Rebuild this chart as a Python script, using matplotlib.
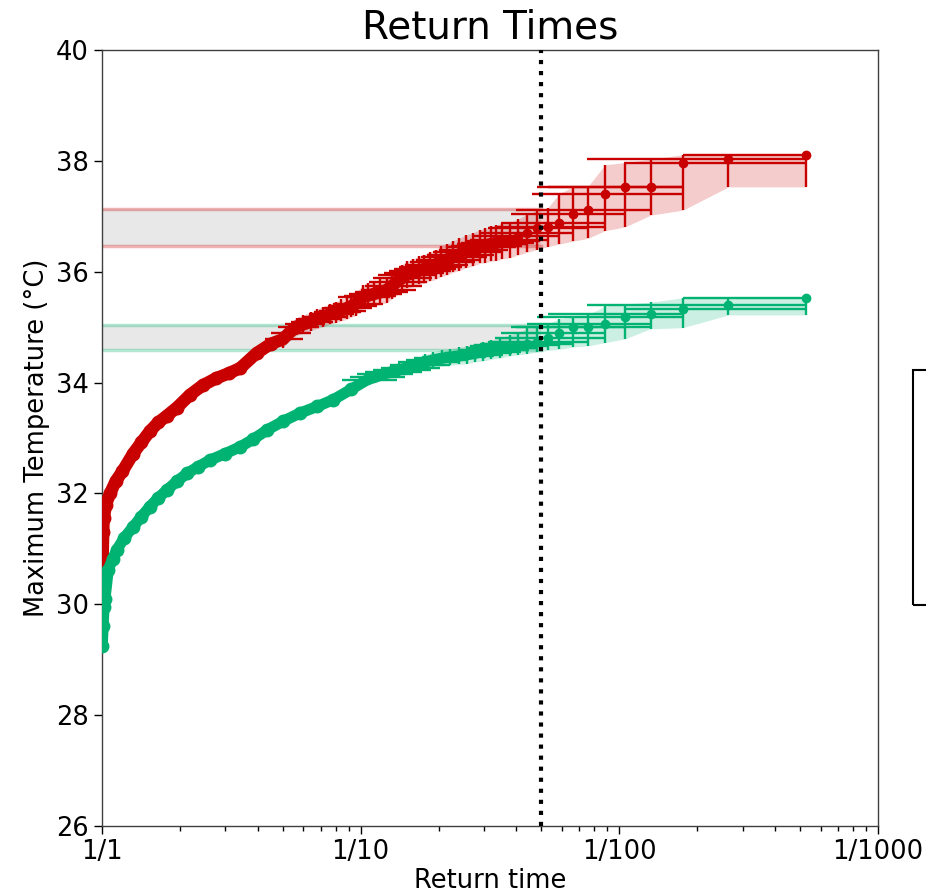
import matplotlib
matplotlib.use('Agg')
import matplotlib.pyplot as plt
import numpy as np
from matplotlib.patches import Rectangle

# colours
red = '#c80000'
green = '#00b373'

# ---- data ----
# bulk of the red curve (no error bars)
red_T_bulk = [1.002, 1.006, 1.01, 1.015, 1.036, 1.074, 1.13, 1.2, 1.32, 1.42, 1.53, 1.65,
              1.78, 1.95, 2.19, 2.45, 2.77, 3.1, 3.42, 3.96, 4.5]
red_y_bulk = [30.5, 30.85, 31.3, 31.55, 31.8, 32.0, 32.22, 32.4, 32.72, 32.92, 33.12, 33.28,
              33.40, 33.55, 33.78, 33.95, 34.08, 34.17, 34.26, 34.53, 34.70]

# red points with confidence intervals
red_T = [5.0, 5.3, 5.66, 6.0, 6.4, 6.8, 7.17, 7.6, 8.0, 8.4, 8.83, 9.2, 9.6, 10.2, 10.7,
         11.3, 11.9, 12.6, 13.2, 13.8, 14.4, 15.06, 15.9, 16.8, 17.6, 18.5, 19.5, 20.5,
         21.6, 22.8, 24.0, 25.5, 27.1, 28.9, 30.3, 32.0, 33.5, 35.2,
         37.7, 40.6, 44.0, 48.0, 52.8, 58.7, 66.0, 75.4, 88.0, 105.6, 132.0,
         176.0, 264.0, 528.0]
red_y = [34.78, 34.90, 35.01, 35.05, 35.10, 35.15, 35.19, 35.23, 35.27, 35.30, 35.34, 35.38,
         35.42, 35.55, 35.57, 35.60, 35.63, 35.67, 35.74, 35.82, 35.88, 35.94, 35.98, 36.02,
         36.05, 36.09, 36.13, 36.18, 36.22, 36.27, 36.31, 36.36, 36.40, 36.45, 36.47, 36.50,
         36.52, 36.55,
         36.58, 36.64, 36.70, 36.78, 36.81, 36.88, 37.04, 37.11, 37.41, 37.53, 37.53,
         37.97, 38.03, 38.11]
red_ylo = [34.63, 34.75, 34.85, 34.89, 34.93, 34.98, 35.01, 35.05, 35.08, 35.11, 35.14, 35.18,
           35.21, 35.34, 35.36, 35.38, 35.41, 35.44, 35.51, 35.58, 35.64, 35.70, 35.73, 35.77,
           35.79, 35.83, 35.86, 35.91, 35.94, 35.99, 36.02, 36.07, 36.10, 36.15, 36.16, 36.19,
           36.20, 36.23,
           36.25, 36.30, 36.35, 36.40, 36.45, 36.50, 36.55, 36.60, 36.74, 36.81, 37.02,
           37.11, 37.53, 37.53]
red_yhi = [34.93, 35.06, 35.17, 35.22, 35.27, 35.33, 35.37, 35.42, 35.46, 35.50, 35.54, 35.59,
           35.63, 35.76, 35.79, 35.82, 35.86, 35.90, 35.98, 36.06, 36.13, 36.19, 36.23, 36.28,
           36.31, 36.36, 36.40, 36.46, 36.50, 36.56, 36.60, 36.66, 36.70, 36.76, 36.78, 36.82,
           36.84, 36.87,
           36.88, 36.95, 37.04, 37.10, 37.15, 37.41, 37.53, 37.53, 37.93, 37.97, 38.03,
           38.11, 38.11, 38.11]
red_Tlo = [4.25, 4.5, 4.8, 5.1, 5.4, 5.7, 6.0, 6.3, 6.6, 6.9, 7.2, 7.5, 7.8, 8.2, 8.6, 9.0,
           9.5, 10.0, 10.4, 10.8, 11.2, 11.7, 12.3, 12.9, 13.5, 14.1, 14.8, 15.5, 16.3, 17.1,
           18.0, 19.0, 20.1, 21.4, 22.3, 23.5, 24.5, 25.7,
           26.5, 27.5, 29.0, 31.0, 33.0, 35.0, 38.0, 40.0, 46.0, 48.0, 53.0,
           104.0, 75.0, 176.0]
red_Thi = [6.0, 6.4, 6.9, 7.3, 7.8, 8.4, 8.9, 9.4, 10.0, 10.5, 11.1, 11.6, 12.2, 13.0, 13.7,
           14.5, 15.3, 16.3, 17.2, 18.0, 18.9, 19.8, 21.0, 22.3, 23.4, 24.7, 26.1, 27.6, 29.1,
           30.9, 32.7, 35.0, 37.2, 40.0, 42.0, 44.5, 46.7, 49.3,
           53.0, 59.0, 66.0, 75.0, 88.0, 88.0, 106.0, 132.0, 176.0, 176.0, 176.0,
           528.0, 528.0, 528.0]

# bulk of the green curve
green_T_bulk = [1.002, 1.01, 1.018, 1.027, 1.057, 1.1, 1.14, 1.22, 1.32, 1.42, 1.53, 1.65,
                1.78, 1.95, 2.13, 2.35, 2.61, 3.0, 3.42, 3.85, 4.33, 5.0, 5.83, 6.8, 7.83,
                9.2]
green_y_bulk = [29.25, 29.6, 29.95, 30.1, 30.62, 30.82, 30.98, 31.2, 31.40, 31.58, 31.76, 31.92,
                32.06, 32.22, 32.36, 32.48, 32.60, 32.72, 32.84, 32.98, 33.14, 33.30, 33.45,
                33.57, 33.69, 33.88]

# green points with confidence intervals
green_T = [10.6, 11.4, 12.2, 13.1, 14.1, 15.2, 16.5, 17.8, 19.1, 20.6, 22.2, 23.9, 25.7,
           27.7, 29.8, 32.0, 34.5,
           37.7, 40.6, 44.0, 48.0, 52.8, 58.7, 66.0, 75.4, 88.0, 105.6, 132.0,
           176.0, 264.0, 528.0]
green_y = [34.05, 34.10, 34.15, 34.19, 34.23, 34.27, 34.32, 34.37, 34.41, 34.44, 34.46, 34.48,
           34.50, 34.53, 34.56, 34.59, 34.62,
           34.66, 34.68, 34.70, 34.73, 34.80, 34.90, 35.00, 35.00, 35.06, 35.18, 35.23,
           35.33, 35.40, 35.53]
green_ylo = [33.95, 34.00, 34.04, 34.08, 34.11, 34.15, 34.19, 34.24, 34.27, 34.30, 34.31, 34.33,
             34.34, 34.37, 34.39, 34.42, 34.44,
             34.48, 34.50, 34.52, 34.55, 34.58, 34.60, 34.64, 34.66, 34.72, 34.79, 34.97,
             34.99, 35.22, 35.22]
green_yhi = [34.15, 34.21, 34.26, 34.31, 34.35, 34.40, 34.45, 34.51, 34.55, 34.59, 34.61, 34.64,
             34.66, 34.70, 34.73, 34.77, 34.80,
             34.86, 34.90, 34.98, 35.00, 35.06, 35.15, 35.18, 35.22, 35.38, 35.42, 35.45,
             35.53, 35.53, 35.53]
green_Tlo = [8.5, 9.1, 9.7, 10.4, 11.2, 12.0, 13.0, 14.0, 15.0, 16.1, 17.3, 18.5, 19.8, 21.2,
             22.7, 24.3, 25.6,
             26.5, 27.5, 29.0, 31.0, 33.0, 35.0, 38.0, 40.0, 44.0, 48.0, 53.0,
             104.0, 75.0, 176.0]
green_Thi = [13.8, 14.9, 16.0, 17.3, 18.7, 20.3, 22.1, 24.0, 25.9, 28.1, 30.4, 32.9, 35.5,
             38.4, 41.5, 44.8, 48.3,
             53.0, 59.0, 66.0, 75.0, 88.0, 88.0, 106.0, 132.0, 132.0, 176.0, 176.0,
             528.0, 528.0, 528.0]

# horizontal bands (up to the 1-in-50 year line)
red_band = (36.46, 37.13)
green_band = (34.59, 35.04)
band_T = 50

# ---- figure ----
fig = plt.figure(figsize=(9.26, 8.96), dpi=100)
ax = fig.add_axes([102/926, 70/896, 776/926, 776/896])
ax.set_xscale('log')

for lo, hi, c in [(red_band[0], red_band[1], red), (green_band[0], green_band[1], green)]:
    ax.fill_between([1, band_T], lo, hi, color='0.91', lw=0, zorder=1)
    ax.plot([1, band_T], [lo, lo], color=c, alpha=0.3, lw=2.5, zorder=1.5)
    ax.plot([1, band_T], [hi, hi], color=c, alpha=0.3, lw=2.5, zorder=1.5)


def draw_series(Tb, yb, T, y, ylo, yhi, Tlo, Thi, c, band_w):
    T = np.array(T); y = np.array(y)
    ylo = np.array(ylo); yhi = np.array(yhi)
    Tlo = np.array(Tlo); Thi = np.array(Thi)
    ax.fill_between(T, ylo, yhi, color=c, alpha=0.2, lw=0, zorder=2)
    dense = T < 36
    allT = np.concatenate([Tb, T[dense]])
    ally = np.concatenate([yb, y[dense]])
    ax.plot(allT, ally, '-', color=c, lw=band_w, solid_capstyle='round',
            solid_joinstyle='round', zorder=3)
    ax.plot(Tb, yb, 'o', color=c, ms=9, zorder=3)
    ax.errorbar(T, y, yerr=[y - ylo, yhi - y], xerr=[T - Tlo, Thi - T], fmt='o',
                color=c, ms=6, elinewidth=1.7, capsize=0, zorder=4)


draw_series(red_T_bulk, red_y_bulk, red_T, red_y, red_ylo, red_yhi, red_Tlo, red_Thi, red, 9)
draw_series(green_T_bulk, green_y_bulk, green_T, green_y, green_ylo, green_yhi,
            green_Tlo, green_Thi, green, 8)

ax.axvline(band_T, color='black', ls=':', lw=3, zorder=5)

ax.set_xlim(1, 1000)
ax.set_ylim(26, 40)
ax.set_xticks([1, 10, 100, 1000])
ax.set_xticklabels(['1/1', '1/10', '1/100', '1/1000'])
ax.set_yticks(np.arange(26, 41, 2))
ax.tick_params(axis='both', which='major', labelsize=18.5, length=6, width=1)
ax.tick_params(axis='x', which='minor', length=3.5, width=1)
for s in ax.spines.values():
    s.set_linewidth(1)
    s.set_color('0.25')

ax.set_xlabel('Return time', fontsize=18.5, labelpad=2)
ax.set_ylabel('Maximum Temperature (°C)', fontsize=18.5)
ax.set_title('Return Times', fontsize=28, pad=8)

# empty legend frame that sits just outside the crop
fig.patches.append(Rectangle((913/926, 291/896), 0.1, 235/896, transform=fig.transFigure,
                             fill=False, edgecolor='black', lw=1.5))

fig.savefig('out.png', dpi=100)
